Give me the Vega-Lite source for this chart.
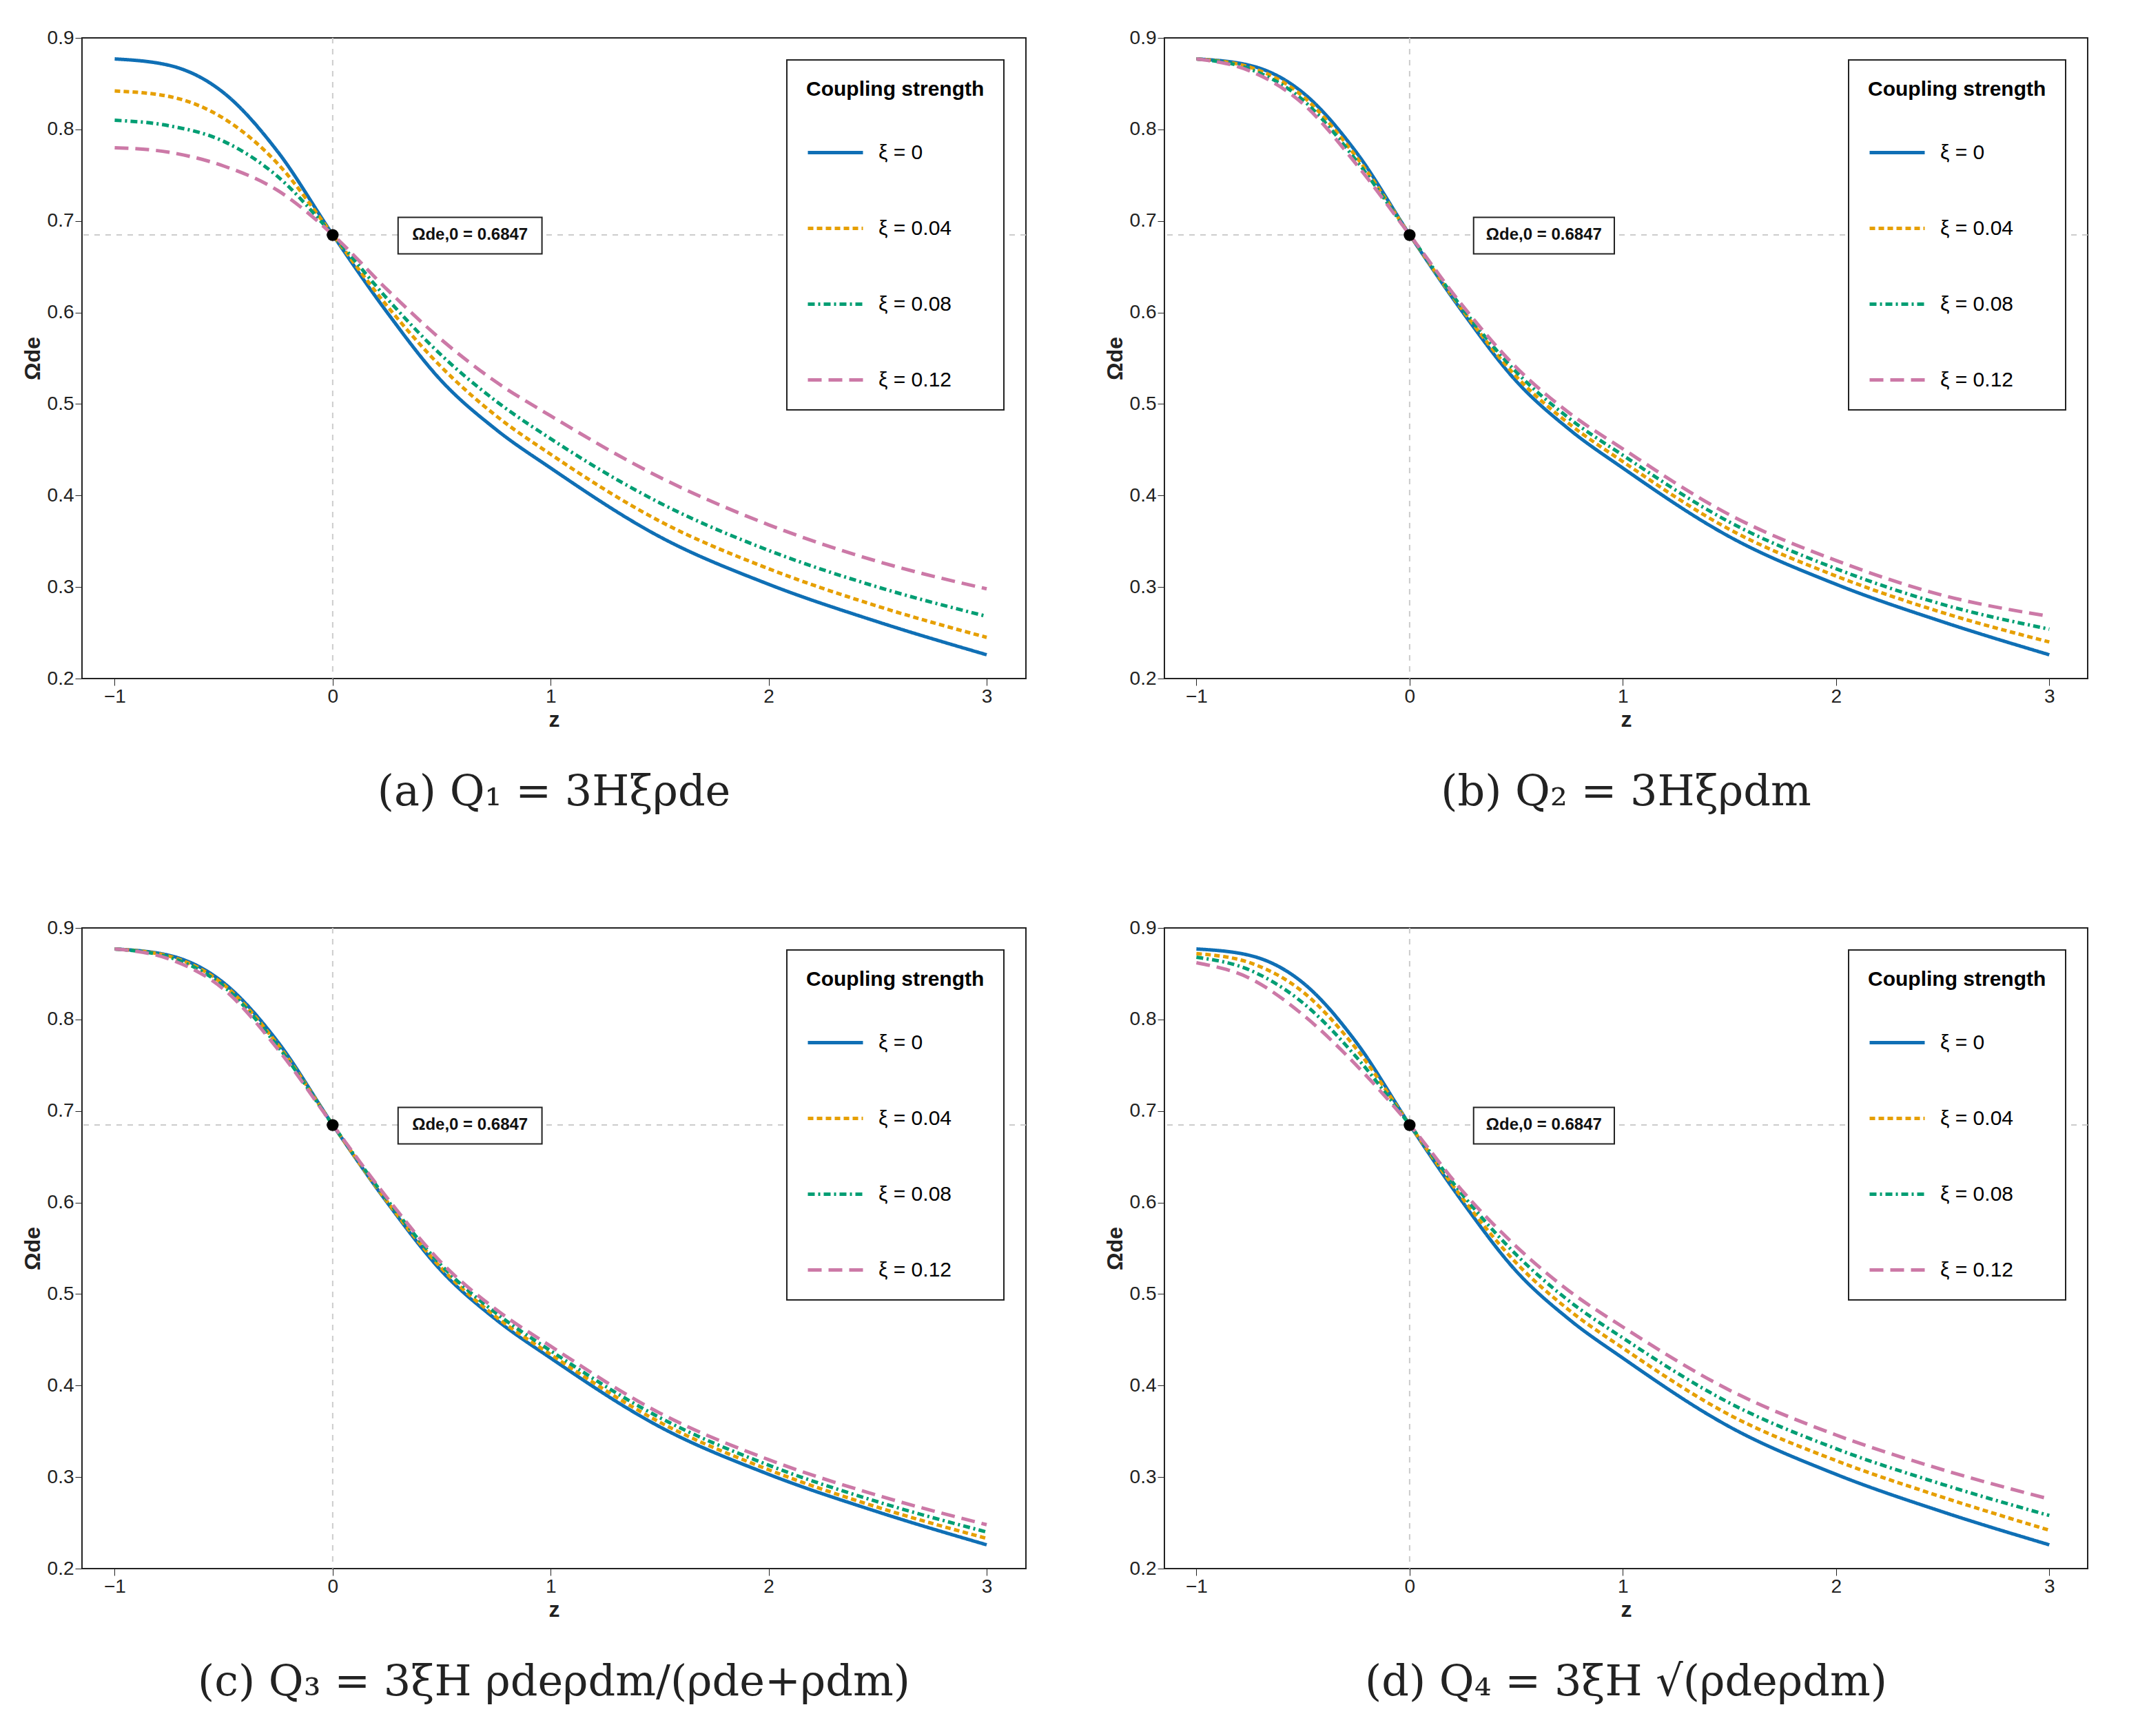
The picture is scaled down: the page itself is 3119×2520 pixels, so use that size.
{
  "$schema": "https://vega.github.io/schema/vega-lite/v6.json",
  "background": "white",
  "padding": {"left": 30, "top": 40, "right": 30, "bottom": 10},
  "config": {
    "view": {"stroke": "#222", "strokeWidth": 2},
    "font": "Liberation Sans",
    "axis": {"labelFontSize": 28, "titleFontSize": 32, "titleFontWeight": "bold", "grid": false, "domainColor": "#222", "tickColor": "#222", "tickSize": 10, "labelColor": "#222", "titleColor": "#222"},
    "title": {"font": "DejaVu Serif", "fontSize": 62, "fontWeight": "normal", "orient": "bottom", "offset": 60, "color": "#222"},
    "legend": {"orient": "top-right", "offset": 32, "strokeColor": "#222", "strokeWidth": 2, "padding": 28, "fillColor": "white", "titleFontSize": 30, "titleFontWeight": "bold", "titleLimit": 0, "labelLimit": 0, "labelFontSize": 30, "symbolType": "stroke", "symbolSize": 6400, "symbolStrokeWidth": 5, "rowPadding": 52, "titlePadding": 34, "labelOffset": 20}
  },
  "datasets": {
    "curves": [
      {"panel":"a","s":"ξ = 0","z":-1,"o":0.877},{"panel":"a","s":"ξ = 0","z":-0.75,"o":0.870},{"panel":"a","s":"ξ = 0","z":-0.5,"o":0.840},{"panel":"a","s":"ξ = 0","z":-0.25,"o":0.775},{"panel":"a","s":"ξ = 0","z":0,"o":0.685},{"panel":"a","s":"ξ = 0","z":0.25,"o":0.600},{"panel":"a","s":"ξ = 0","z":0.5,"o":0.525},{"panel":"a","s":"ξ = 0","z":0.75,"o":0.472},{"panel":"a","s":"ξ = 0","z":1,"o":0.430},{"panel":"a","s":"ξ = 0","z":1.5,"o":0.355},{"panel":"a","s":"ξ = 0","z":2,"o":0.303},{"panel":"a","s":"ξ = 0","z":2.5,"o":0.262},{"panel":"a","s":"ξ = 0","z":3,"o":0.226},
      {"panel":"a","s":"ξ = 0.04","z":-1,"o":0.842},{"panel":"a","s":"ξ = 0.04","z":-0.75,"o":0.836},{"panel":"a","s":"ξ = 0.04","z":-0.5,"o":0.812},{"panel":"a","s":"ξ = 0.04","z":-0.25,"o":0.762},{"panel":"a","s":"ξ = 0.04","z":0,"o":0.685},{"panel":"a","s":"ξ = 0.04","z":0.25,"o":0.607},{"panel":"a","s":"ξ = 0.04","z":0.5,"o":0.540},{"panel":"a","s":"ξ = 0.04","z":0.75,"o":0.487},{"panel":"a","s":"ξ = 0.04","z":1,"o":0.445},{"panel":"a","s":"ξ = 0.04","z":1.5,"o":0.372},{"panel":"a","s":"ξ = 0.04","z":2,"o":0.320},{"panel":"a","s":"ξ = 0.04","z":2.5,"o":0.279},{"panel":"a","s":"ξ = 0.04","z":3,"o":0.245},
      {"panel":"a","s":"ξ = 0.08","z":-1,"o":0.810},{"panel":"a","s":"ξ = 0.08","z":-0.75,"o":0.804},{"panel":"a","s":"ξ = 0.08","z":-0.5,"o":0.787},{"panel":"a","s":"ξ = 0.08","z":-0.25,"o":0.748},{"panel":"a","s":"ξ = 0.08","z":0,"o":0.685},{"panel":"a","s":"ξ = 0.08","z":0.25,"o":0.615},{"panel":"a","s":"ξ = 0.08","z":0.5,"o":0.553},{"panel":"a","s":"ξ = 0.08","z":0.75,"o":0.503},{"panel":"a","s":"ξ = 0.08","z":1,"o":0.462},{"panel":"a","s":"ξ = 0.08","z":1.5,"o":0.392},{"panel":"a","s":"ξ = 0.08","z":2,"o":0.340},{"panel":"a","s":"ξ = 0.08","z":2.5,"o":0.300},{"panel":"a","s":"ξ = 0.08","z":3,"o":0.268},
      {"panel":"a","s":"ξ = 0.12","z":-1,"o":0.780},{"panel":"a","s":"ξ = 0.12","z":-0.75,"o":0.775},{"panel":"a","s":"ξ = 0.12","z":-0.5,"o":0.760},{"panel":"a","s":"ξ = 0.12","z":-0.25,"o":0.733},{"panel":"a","s":"ξ = 0.12","z":0,"o":0.685},{"panel":"a","s":"ξ = 0.12","z":0.25,"o":0.625},{"panel":"a","s":"ξ = 0.12","z":0.5,"o":0.570},{"panel":"a","s":"ξ = 0.12","z":0.75,"o":0.524},{"panel":"a","s":"ξ = 0.12","z":1,"o":0.487},{"panel":"a","s":"ξ = 0.12","z":1.5,"o":0.420},{"panel":"a","s":"ξ = 0.12","z":2,"o":0.368},{"panel":"a","s":"ξ = 0.12","z":2.5,"o":0.328},{"panel":"a","s":"ξ = 0.12","z":3,"o":0.298},

      {"panel":"b","s":"ξ = 0","z":-1,"o":0.877},{"panel":"b","s":"ξ = 0","z":-0.75,"o":0.870},{"panel":"b","s":"ξ = 0","z":-0.5,"o":0.840},{"panel":"b","s":"ξ = 0","z":-0.25,"o":0.775},{"panel":"b","s":"ξ = 0","z":0,"o":0.685},{"panel":"b","s":"ξ = 0","z":0.25,"o":0.600},{"panel":"b","s":"ξ = 0","z":0.5,"o":0.525},{"panel":"b","s":"ξ = 0","z":0.75,"o":0.472},{"panel":"b","s":"ξ = 0","z":1,"o":0.430},{"panel":"b","s":"ξ = 0","z":1.5,"o":0.355},{"panel":"b","s":"ξ = 0","z":2,"o":0.303},{"panel":"b","s":"ξ = 0","z":2.5,"o":0.262},{"panel":"b","s":"ξ = 0","z":3,"o":0.226},
      {"panel":"b","s":"ξ = 0.04","z":-1,"o":0.877},{"panel":"b","s":"ξ = 0.04","z":-0.75,"o":0.868},{"panel":"b","s":"ξ = 0.04","z":-0.5,"o":0.836},{"panel":"b","s":"ξ = 0.04","z":-0.25,"o":0.770},{"panel":"b","s":"ξ = 0.04","z":0,"o":0.685},{"panel":"b","s":"ξ = 0.04","z":0.25,"o":0.602},{"panel":"b","s":"ξ = 0.04","z":0.5,"o":0.530},{"panel":"b","s":"ξ = 0.04","z":0.75,"o":0.478},{"panel":"b","s":"ξ = 0.04","z":1,"o":0.437},{"panel":"b","s":"ξ = 0.04","z":1.5,"o":0.363},{"panel":"b","s":"ξ = 0.04","z":2,"o":0.312},{"panel":"b","s":"ξ = 0.04","z":2.5,"o":0.272},{"panel":"b","s":"ξ = 0.04","z":3,"o":0.240},
      {"panel":"b","s":"ξ = 0.08","z":-1,"o":0.877},{"panel":"b","s":"ξ = 0.08","z":-0.75,"o":0.866},{"panel":"b","s":"ξ = 0.08","z":-0.5,"o":0.832},{"panel":"b","s":"ξ = 0.08","z":-0.25,"o":0.766},{"panel":"b","s":"ξ = 0.08","z":0,"o":0.685},{"panel":"b","s":"ξ = 0.08","z":0.25,"o":0.604},{"panel":"b","s":"ξ = 0.08","z":0.5,"o":0.535},{"panel":"b","s":"ξ = 0.08","z":0.75,"o":0.484},{"panel":"b","s":"ξ = 0.08","z":1,"o":0.444},{"panel":"b","s":"ξ = 0.08","z":1.5,"o":0.371},{"panel":"b","s":"ξ = 0.08","z":2,"o":0.320},{"panel":"b","s":"ξ = 0.08","z":2.5,"o":0.281},{"panel":"b","s":"ξ = 0.08","z":3,"o":0.254},
      {"panel":"b","s":"ξ = 0.12","z":-1,"o":0.877},{"panel":"b","s":"ξ = 0.12","z":-0.75,"o":0.864},{"panel":"b","s":"ξ = 0.12","z":-0.5,"o":0.828},{"panel":"b","s":"ξ = 0.12","z":-0.25,"o":0.762},{"panel":"b","s":"ξ = 0.12","z":0,"o":0.685},{"panel":"b","s":"ξ = 0.12","z":0.25,"o":0.607},{"panel":"b","s":"ξ = 0.12","z":0.5,"o":0.540},{"panel":"b","s":"ξ = 0.12","z":0.75,"o":0.490},{"panel":"b","s":"ξ = 0.12","z":1,"o":0.451},{"panel":"b","s":"ξ = 0.12","z":1.5,"o":0.379},{"panel":"b","s":"ξ = 0.12","z":2,"o":0.329},{"panel":"b","s":"ξ = 0.12","z":2.5,"o":0.291},{"panel":"b","s":"ξ = 0.12","z":3,"o":0.268},

      {"panel":"c","s":"ξ = 0","z":-1,"o":0.877},{"panel":"c","s":"ξ = 0","z":-0.75,"o":0.870},{"panel":"c","s":"ξ = 0","z":-0.5,"o":0.840},{"panel":"c","s":"ξ = 0","z":-0.25,"o":0.775},{"panel":"c","s":"ξ = 0","z":0,"o":0.685},{"panel":"c","s":"ξ = 0","z":0.25,"o":0.600},{"panel":"c","s":"ξ = 0","z":0.5,"o":0.525},{"panel":"c","s":"ξ = 0","z":0.75,"o":0.472},{"panel":"c","s":"ξ = 0","z":1,"o":0.430},{"panel":"c","s":"ξ = 0","z":1.5,"o":0.355},{"panel":"c","s":"ξ = 0","z":2,"o":0.303},{"panel":"c","s":"ξ = 0","z":2.5,"o":0.262},{"panel":"c","s":"ξ = 0","z":3,"o":0.226},
      {"panel":"c","s":"ξ = 0.04","z":-1,"o":0.877},{"panel":"c","s":"ξ = 0.04","z":-0.75,"o":0.869},{"panel":"c","s":"ξ = 0.04","z":-0.5,"o":0.838},{"panel":"c","s":"ξ = 0.04","z":-0.25,"o":0.772},{"panel":"c","s":"ξ = 0.04","z":0,"o":0.685},{"panel":"c","s":"ξ = 0.04","z":0.25,"o":0.601},{"panel":"c","s":"ξ = 0.04","z":0.5,"o":0.528},{"panel":"c","s":"ξ = 0.04","z":0.75,"o":0.475},{"panel":"c","s":"ξ = 0.04","z":1,"o":0.434},{"panel":"c","s":"ξ = 0.04","z":1.5,"o":0.360},{"panel":"c","s":"ξ = 0.04","z":2,"o":0.308},{"panel":"c","s":"ξ = 0.04","z":2.5,"o":0.267},{"panel":"c","s":"ξ = 0.04","z":3,"o":0.233},
      {"panel":"c","s":"ξ = 0.08","z":-1,"o":0.877},{"panel":"c","s":"ξ = 0.08","z":-0.75,"o":0.868},{"panel":"c","s":"ξ = 0.08","z":-0.5,"o":0.836},{"panel":"c","s":"ξ = 0.08","z":-0.25,"o":0.770},{"panel":"c","s":"ξ = 0.08","z":0,"o":0.685},{"panel":"c","s":"ξ = 0.08","z":0.25,"o":0.603},{"panel":"c","s":"ξ = 0.08","z":0.5,"o":0.531},{"panel":"c","s":"ξ = 0.08","z":0.75,"o":0.479},{"panel":"c","s":"ξ = 0.08","z":1,"o":0.438},{"panel":"c","s":"ξ = 0.08","z":1.5,"o":0.365},{"panel":"c","s":"ξ = 0.08","z":2,"o":0.313},{"panel":"c","s":"ξ = 0.08","z":2.5,"o":0.273},{"panel":"c","s":"ξ = 0.08","z":3,"o":0.240},
      {"panel":"c","s":"ξ = 0.12","z":-1,"o":0.877},{"panel":"c","s":"ξ = 0.12","z":-0.75,"o":0.866},{"panel":"c","s":"ξ = 0.12","z":-0.5,"o":0.833},{"panel":"c","s":"ξ = 0.12","z":-0.25,"o":0.767},{"panel":"c","s":"ξ = 0.12","z":0,"o":0.685},{"panel":"c","s":"ξ = 0.12","z":0.25,"o":0.605},{"panel":"c","s":"ξ = 0.12","z":0.5,"o":0.534},{"panel":"c","s":"ξ = 0.12","z":0.75,"o":0.483},{"panel":"c","s":"ξ = 0.12","z":1,"o":0.443},{"panel":"c","s":"ξ = 0.12","z":1.5,"o":0.370},{"panel":"c","s":"ξ = 0.12","z":2,"o":0.319},{"panel":"c","s":"ξ = 0.12","z":2.5,"o":0.280},{"panel":"c","s":"ξ = 0.12","z":3,"o":0.248},

      {"panel":"d","s":"ξ = 0","z":-1,"o":0.877},{"panel":"d","s":"ξ = 0","z":-0.75,"o":0.870},{"panel":"d","s":"ξ = 0","z":-0.5,"o":0.840},{"panel":"d","s":"ξ = 0","z":-0.25,"o":0.775},{"panel":"d","s":"ξ = 0","z":0,"o":0.685},{"panel":"d","s":"ξ = 0","z":0.25,"o":0.600},{"panel":"d","s":"ξ = 0","z":0.5,"o":0.525},{"panel":"d","s":"ξ = 0","z":0.75,"o":0.472},{"panel":"d","s":"ξ = 0","z":1,"o":0.430},{"panel":"d","s":"ξ = 0","z":1.5,"o":0.355},{"panel":"d","s":"ξ = 0","z":2,"o":0.303},{"panel":"d","s":"ξ = 0","z":2.5,"o":0.262},{"panel":"d","s":"ξ = 0","z":3,"o":0.226},
      {"panel":"d","s":"ξ = 0.04","z":-1,"o":0.872},{"panel":"d","s":"ξ = 0.04","z":-0.75,"o":0.862},{"panel":"d","s":"ξ = 0.04","z":-0.5,"o":0.830},{"panel":"d","s":"ξ = 0.04","z":-0.25,"o":0.768},{"panel":"d","s":"ξ = 0.04","z":0,"o":0.685},{"panel":"d","s":"ξ = 0.04","z":0.25,"o":0.604},{"panel":"d","s":"ξ = 0.04","z":0.5,"o":0.534},{"panel":"d","s":"ξ = 0.04","z":0.75,"o":0.482},{"panel":"d","s":"ξ = 0.04","z":1,"o":0.441},{"panel":"d","s":"ξ = 0.04","z":1.5,"o":0.368},{"panel":"d","s":"ξ = 0.04","z":2,"o":0.318},{"panel":"d","s":"ξ = 0.04","z":2.5,"o":0.278},{"panel":"d","s":"ξ = 0.04","z":3,"o":0.242},
      {"panel":"d","s":"ξ = 0.08","z":-1,"o":0.868},{"panel":"d","s":"ξ = 0.08","z":-0.75,"o":0.854},{"panel":"d","s":"ξ = 0.08","z":-0.5,"o":0.818},{"panel":"d","s":"ξ = 0.08","z":-0.25,"o":0.759},{"panel":"d","s":"ξ = 0.08","z":0,"o":0.685},{"panel":"d","s":"ξ = 0.08","z":0.25,"o":0.608},{"panel":"d","s":"ξ = 0.08","z":0.5,"o":0.543},{"panel":"d","s":"ξ = 0.08","z":0.75,"o":0.492},{"panel":"d","s":"ξ = 0.08","z":1,"o":0.452},{"panel":"d","s":"ξ = 0.08","z":1.5,"o":0.381},{"panel":"d","s":"ξ = 0.08","z":2,"o":0.331},{"panel":"d","s":"ξ = 0.08","z":2.5,"o":0.292},{"panel":"d","s":"ξ = 0.08","z":3,"o":0.258},
      {"panel":"d","s":"ξ = 0.12","z":-1,"o":0.862},{"panel":"d","s":"ξ = 0.12","z":-0.75,"o":0.845},{"panel":"d","s":"ξ = 0.12","z":-0.5,"o":0.805},{"panel":"d","s":"ξ = 0.12","z":-0.25,"o":0.750},{"panel":"d","s":"ξ = 0.12","z":0,"o":0.685},{"panel":"d","s":"ξ = 0.12","z":0.25,"o":0.612},{"panel":"d","s":"ξ = 0.12","z":0.5,"o":0.552},{"panel":"d","s":"ξ = 0.12","z":0.75,"o":0.503},{"panel":"d","s":"ξ = 0.12","z":1,"o":0.464},{"panel":"d","s":"ξ = 0.12","z":1.5,"o":0.395},{"panel":"d","s":"ξ = 0.12","z":2,"o":0.346},{"panel":"d","s":"ξ = 0.12","z":2.5,"o":0.308},{"panel":"d","s":"ξ = 0.12","z":3,"o":0.276}
    ],
    "today": [{"z": 0, "o": 0.6847, "x1": 0.3, "x2": 0.96, "y1": 0.664, "y2": 0.704, "xt": 0.63, "label": "Ωde,0 = 0.6847"}]
  },
  "spacing": 150,
  "vconcat": [
    {"hconcat": [
      {"title": "(a) Q₁ = 3Hξρde", "width": 1370, "height": 930, "layer": [
        {"data": {"name": "today"}, "mark": {"type": "rule", "color": "#ccc", "strokeDash": [8, 8], "strokeWidth": 2}, "encoding": {"x": {"field": "z", "type": "quantitative", "scale": {"domain": [-1.15, 3.18], "nice": false, "zero": false}}}},
        {"data": {"name": "today"}, "mark": {"type": "rule", "color": "#ccc", "strokeDash": [8, 8], "strokeWidth": 2}, "encoding": {"y": {"field": "o", "type": "quantitative", "scale": {"domain": [0.2, 0.9], "nice": false, "zero": false}}}},
        {"data": {"name": "curves"}, "transform": [{"filter": "datum.panel == 'a'"}], "mark": {"type": "line", "strokeWidth": 5, "interpolate": "monotone"},
          "encoding": {
            "x": {"field": "z", "type": "quantitative", "title": "z", "scale": {"domain": [-1.15, 3.18], "nice": false, "zero": false}, "axis": {"values": [-1, 0, 1, 2, 3], "format": "d"}},
            "y": {"field": "o", "type": "quantitative", "title": "Ωde", "scale": {"domain": [0.2, 0.9], "nice": false, "zero": false}, "axis": {"values": [0.2, 0.3, 0.4, 0.5, 0.6, 0.7, 0.8, 0.9], "format": ".1f"}},
            "color": {"field": "s", "type": "nominal", "title": "Coupling strength", "sort": ["ξ = 0", "ξ = 0.04", "ξ = 0.08", "ξ = 0.12"], "scale": {"domain": ["ξ = 0", "ξ = 0.04", "ξ = 0.08", "ξ = 0.12"], "range": ["#0f6fb5", "#e69f00", "#009e73", "#cc79a7"]}},
            "strokeDash": {"field": "s", "type": "nominal", "title": "Coupling strength", "sort": ["ξ = 0", "ξ = 0.04", "ξ = 0.08", "ξ = 0.12"], "scale": {"domain": ["ξ = 0", "ξ = 0.04", "ξ = 0.08", "ξ = 0.12"], "range": [[1, 0], [8, 5], [10, 5, 3, 5], [20, 10]]}}
          }},
        {"data": {"name": "today"}, "mark": {"type": "point", "filled": true, "color": "black", "size": 300, "opacity": 1}, "encoding": {"x": {"field": "z", "type": "quantitative", "scale": {"domain": [-1.15, 3.18], "nice": false, "zero": false}}, "y": {"field": "o", "type": "quantitative", "scale": {"domain": [0.2, 0.9], "nice": false, "zero": false}}}},
        {"data": {"name": "today"}, "mark": {"type": "rect", "fill": "white", "stroke": "#222", "strokeWidth": 2}, "encoding": {"x": {"field": "x1", "type": "quantitative", "scale": {"domain": [-1.15, 3.18], "nice": false, "zero": false}}, "x2": {"field": "x2"}, "y": {"field": "y1", "type": "quantitative", "scale": {"domain": [0.2, 0.9], "nice": false, "zero": false}}, "y2": {"field": "y2"}}},
        {"data": {"name": "today"}, "mark": {"type": "text", "fontSize": 24, "fontWeight": "bold", "color": "#111"}, "encoding": {"x": {"field": "xt", "type": "quantitative", "scale": {"domain": [-1.15, 3.18], "nice": false, "zero": false}}, "y": {"field": "o", "type": "quantitative", "scale": {"domain": [0.2, 0.9], "nice": false, "zero": false}}, "text": {"field": "label"}}}
      ]},
      {"title": "(b) Q₂ = 3Hξρdm", "width": 1340, "height": 930, "layer": [
        {"data": {"name": "today"}, "mark": {"type": "rule", "color": "#ccc", "strokeDash": [8, 8], "strokeWidth": 2}, "encoding": {"x": {"field": "z", "type": "quantitative", "scale": {"domain": [-1.15, 3.18], "nice": false, "zero": false}}}},
        {"data": {"name": "today"}, "mark": {"type": "rule", "color": "#ccc", "strokeDash": [8, 8], "strokeWidth": 2}, "encoding": {"y": {"field": "o", "type": "quantitative", "scale": {"domain": [0.2, 0.9], "nice": false, "zero": false}}}},
        {"data": {"name": "curves"}, "transform": [{"filter": "datum.panel == 'b'"}], "mark": {"type": "line", "strokeWidth": 5, "interpolate": "monotone"},
          "encoding": {
            "x": {"field": "z", "type": "quantitative", "title": "z", "scale": {"domain": [-1.15, 3.18], "nice": false, "zero": false}, "axis": {"values": [-1, 0, 1, 2, 3], "format": "d"}},
            "y": {"field": "o", "type": "quantitative", "title": "Ωde", "scale": {"domain": [0.2, 0.9], "nice": false, "zero": false}, "axis": {"values": [0.2, 0.3, 0.4, 0.5, 0.6, 0.7, 0.8, 0.9], "format": ".1f"}},
            "color": {"field": "s", "type": "nominal", "title": "Coupling strength", "sort": ["ξ = 0", "ξ = 0.04", "ξ = 0.08", "ξ = 0.12"], "scale": {"domain": ["ξ = 0", "ξ = 0.04", "ξ = 0.08", "ξ = 0.12"], "range": ["#0f6fb5", "#e69f00", "#009e73", "#cc79a7"]}},
            "strokeDash": {"field": "s", "type": "nominal", "title": "Coupling strength", "sort": ["ξ = 0", "ξ = 0.04", "ξ = 0.08", "ξ = 0.12"], "scale": {"domain": ["ξ = 0", "ξ = 0.04", "ξ = 0.08", "ξ = 0.12"], "range": [[1, 0], [8, 5], [10, 5, 3, 5], [20, 10]]}}
          }},
        {"data": {"name": "today"}, "mark": {"type": "point", "filled": true, "color": "black", "size": 300, "opacity": 1}, "encoding": {"x": {"field": "z", "type": "quantitative", "scale": {"domain": [-1.15, 3.18], "nice": false, "zero": false}}, "y": {"field": "o", "type": "quantitative", "scale": {"domain": [0.2, 0.9], "nice": false, "zero": false}}}},
        {"data": {"name": "today"}, "mark": {"type": "rect", "fill": "white", "stroke": "#222", "strokeWidth": 2}, "encoding": {"x": {"field": "x1", "type": "quantitative", "scale": {"domain": [-1.15, 3.18], "nice": false, "zero": false}}, "x2": {"field": "x2"}, "y": {"field": "y1", "type": "quantitative", "scale": {"domain": [0.2, 0.9], "nice": false, "zero": false}}, "y2": {"field": "y2"}}},
        {"data": {"name": "today"}, "mark": {"type": "text", "fontSize": 24, "fontWeight": "bold", "color": "#111"}, "encoding": {"x": {"field": "xt", "type": "quantitative", "scale": {"domain": [-1.15, 3.18], "nice": false, "zero": false}}, "y": {"field": "o", "type": "quantitative", "scale": {"domain": [0.2, 0.9], "nice": false, "zero": false}}, "text": {"field": "label"}}}
      ]}
    ], "spacing": 110, "resolve": {"scale": {"color": "independent", "strokeDash": "independent"}}},
    {"hconcat": [
      {"title": "(c) Q₃ = 3ξH ρdeρdm/(ρde+ρdm)", "width": 1370, "height": 930, "layer": [
        {"data": {"name": "today"}, "mark": {"type": "rule", "color": "#ccc", "strokeDash": [8, 8], "strokeWidth": 2}, "encoding": {"x": {"field": "z", "type": "quantitative", "scale": {"domain": [-1.15, 3.18], "nice": false, "zero": false}}}},
        {"data": {"name": "today"}, "mark": {"type": "rule", "color": "#ccc", "strokeDash": [8, 8], "strokeWidth": 2}, "encoding": {"y": {"field": "o", "type": "quantitative", "scale": {"domain": [0.2, 0.9], "nice": false, "zero": false}}}},
        {"data": {"name": "curves"}, "transform": [{"filter": "datum.panel == 'c'"}], "mark": {"type": "line", "strokeWidth": 5, "interpolate": "monotone"},
          "encoding": {
            "x": {"field": "z", "type": "quantitative", "title": "z", "scale": {"domain": [-1.15, 3.18], "nice": false, "zero": false}, "axis": {"values": [-1, 0, 1, 2, 3], "format": "d"}},
            "y": {"field": "o", "type": "quantitative", "title": "Ωde", "scale": {"domain": [0.2, 0.9], "nice": false, "zero": false}, "axis": {"values": [0.2, 0.3, 0.4, 0.5, 0.6, 0.7, 0.8, 0.9], "format": ".1f"}},
            "color": {"field": "s", "type": "nominal", "title": "Coupling strength", "sort": ["ξ = 0", "ξ = 0.04", "ξ = 0.08", "ξ = 0.12"], "scale": {"domain": ["ξ = 0", "ξ = 0.04", "ξ = 0.08", "ξ = 0.12"], "range": ["#0f6fb5", "#e69f00", "#009e73", "#cc79a7"]}},
            "strokeDash": {"field": "s", "type": "nominal", "title": "Coupling strength", "sort": ["ξ = 0", "ξ = 0.04", "ξ = 0.08", "ξ = 0.12"], "scale": {"domain": ["ξ = 0", "ξ = 0.04", "ξ = 0.08", "ξ = 0.12"], "range": [[1, 0], [8, 5], [10, 5, 3, 5], [20, 10]]}}
          }},
        {"data": {"name": "today"}, "mark": {"type": "point", "filled": true, "color": "black", "size": 300, "opacity": 1}, "encoding": {"x": {"field": "z", "type": "quantitative", "scale": {"domain": [-1.15, 3.18], "nice": false, "zero": false}}, "y": {"field": "o", "type": "quantitative", "scale": {"domain": [0.2, 0.9], "nice": false, "zero": false}}}},
        {"data": {"name": "today"}, "mark": {"type": "rect", "fill": "white", "stroke": "#222", "strokeWidth": 2}, "encoding": {"x": {"field": "x1", "type": "quantitative", "scale": {"domain": [-1.15, 3.18], "nice": false, "zero": false}}, "x2": {"field": "x2"}, "y": {"field": "y1", "type": "quantitative", "scale": {"domain": [0.2, 0.9], "nice": false, "zero": false}}, "y2": {"field": "y2"}}},
        {"data": {"name": "today"}, "mark": {"type": "text", "fontSize": 24, "fontWeight": "bold", "color": "#111"}, "encoding": {"x": {"field": "xt", "type": "quantitative", "scale": {"domain": [-1.15, 3.18], "nice": false, "zero": false}}, "y": {"field": "o", "type": "quantitative", "scale": {"domain": [0.2, 0.9], "nice": false, "zero": false}}, "text": {"field": "label"}}}
      ]},
      {"title": "(d) Q₄ = 3ξH √(ρdeρdm)", "width": 1340, "height": 930, "layer": [
        {"data": {"name": "today"}, "mark": {"type": "rule", "color": "#ccc", "strokeDash": [8, 8], "strokeWidth": 2}, "encoding": {"x": {"field": "z", "type": "quantitative", "scale": {"domain": [-1.15, 3.18], "nice": false, "zero": false}}}},
        {"data": {"name": "today"}, "mark": {"type": "rule", "color": "#ccc", "strokeDash": [8, 8], "strokeWidth": 2}, "encoding": {"y": {"field": "o", "type": "quantitative", "scale": {"domain": [0.2, 0.9], "nice": false, "zero": false}}}},
        {"data": {"name": "curves"}, "transform": [{"filter": "datum.panel == 'd'"}], "mark": {"type": "line", "strokeWidth": 5, "interpolate": "monotone"},
          "encoding": {
            "x": {"field": "z", "type": "quantitative", "title": "z", "scale": {"domain": [-1.15, 3.18], "nice": false, "zero": false}, "axis": {"values": [-1, 0, 1, 2, 3], "format": "d"}},
            "y": {"field": "o", "type": "quantitative", "title": "Ωde", "scale": {"domain": [0.2, 0.9], "nice": false, "zero": false}, "axis": {"values": [0.2, 0.3, 0.4, 0.5, 0.6, 0.7, 0.8, 0.9], "format": ".1f"}},
            "color": {"field": "s", "type": "nominal", "title": "Coupling strength", "sort": ["ξ = 0", "ξ = 0.04", "ξ = 0.08", "ξ = 0.12"], "scale": {"domain": ["ξ = 0", "ξ = 0.04", "ξ = 0.08", "ξ = 0.12"], "range": ["#0f6fb5", "#e69f00", "#009e73", "#cc79a7"]}},
            "strokeDash": {"field": "s", "type": "nominal", "title": "Coupling strength", "sort": ["ξ = 0", "ξ = 0.04", "ξ = 0.08", "ξ = 0.12"], "scale": {"domain": ["ξ = 0", "ξ = 0.04", "ξ = 0.08", "ξ = 0.12"], "range": [[1, 0], [8, 5], [10, 5, 3, 5], [20, 10]]}}
          }},
        {"data": {"name": "today"}, "mark": {"type": "point", "filled": true, "color": "black", "size": 300, "opacity": 1}, "encoding": {"x": {"field": "z", "type": "quantitative", "scale": {"domain": [-1.15, 3.18], "nice": false, "zero": false}}, "y": {"field": "o", "type": "quantitative", "scale": {"domain": [0.2, 0.9], "nice": false, "zero": false}}}},
        {"data": {"name": "today"}, "mark": {"type": "rect", "fill": "white", "stroke": "#222", "strokeWidth": 2}, "encoding": {"x": {"field": "x1", "type": "quantitative", "scale": {"domain": [-1.15, 3.18], "nice": false, "zero": false}}, "x2": {"field": "x2"}, "y": {"field": "y1", "type": "quantitative", "scale": {"domain": [0.2, 0.9], "nice": false, "zero": false}}, "y2": {"field": "y2"}}},
        {"data": {"name": "today"}, "mark": {"type": "text", "fontSize": 24, "fontWeight": "bold", "color": "#111"}, "encoding": {"x": {"field": "xt", "type": "quantitative", "scale": {"domain": [-1.15, 3.18], "nice": false, "zero": false}}, "y": {"field": "o", "type": "quantitative", "scale": {"domain": [0.2, 0.9], "nice": false, "zero": false}}, "text": {"field": "label"}}}
      ]}
    ], "spacing": 110, "resolve": {"scale": {"color": "independent", "strokeDash": "independent"}}}
  ],
  "resolve": {"scale": {"color": "independent", "strokeDash": "independent"}}
}
